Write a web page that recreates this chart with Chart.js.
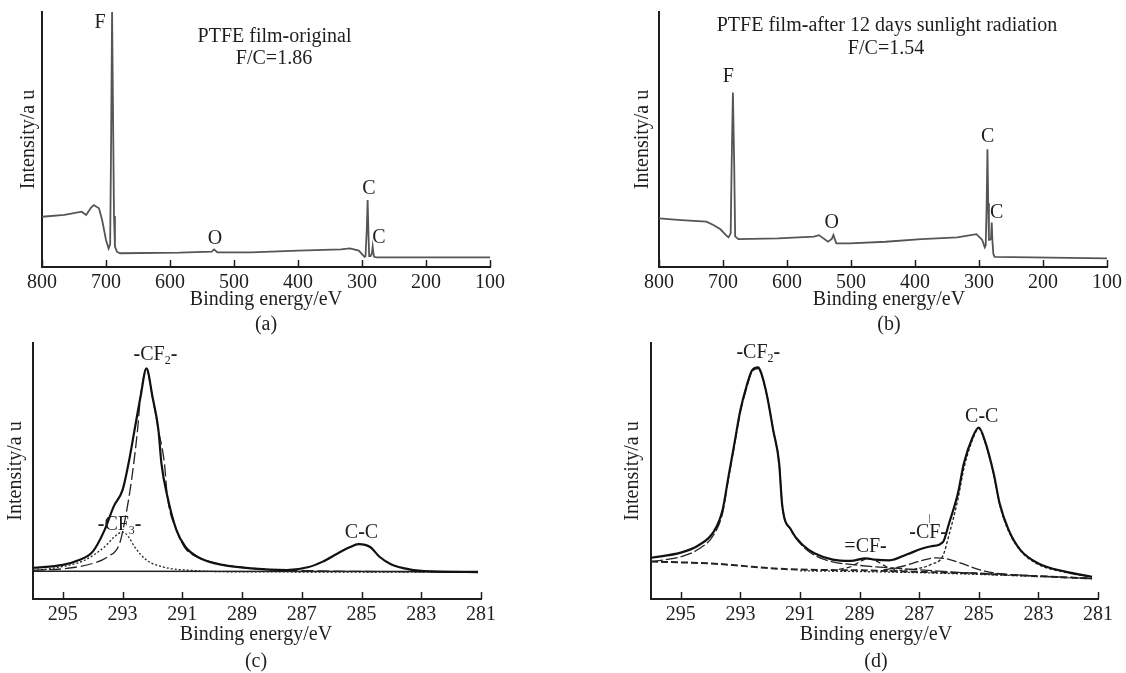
<!DOCTYPE html>
<html>
<head>
<meta charset="utf-8">
<script src="https://cdn.jsdelivr.net/npm/chart.js@4.4.0/dist/chart.umd.min.js"></script>
<style>
  html, body { margin: 0; padding: 0; background: #fff; }
  #wrap { position: relative; width: 1126px; height: 673px; overflow: hidden; background: #fff; }
  canvas { position: absolute; }
</style>
</head>
<body>
<div id="wrap">
  <canvas id="chartA" width="563" height="336" style="left:0;top:0"></canvas>
  <canvas id="chartB" width="563" height="336" style="left:563px;top:0"></canvas>
  <canvas id="chartC" width="563" height="337" style="left:0;top:336px"></canvas>
  <canvas id="chartD" width="563" height="337" style="left:563px;top:336px"></canvas>
</div>
<script>
// ---------- data ----------
// (a) survey spectrum, original PTFE film
const surveyOrigEnergy = [800, 765, 738, 731, 723, 719, 711, 706, 700, 696, 693.5, 692, 690.5, 689, 687.5, 686, 683, 678, 585, 535, 531, 526, 473, 400, 333, 319, 305, 296, 294.5, 292.5, 291.2, 290, 288.8, 286.5, 284.5, 283.3, 282, 281, 277, 100];
const surveyOrigCounts = [19.7, 20.4, 21.7, 20.4, 23.4, 24.3, 23.0, 18.4, 10.6, 7.3, 9, 50, 100, 60, 20, 8, 6.0, 5.4, 5.6, 6.0, 6.9, 5.7, 5.7, 6.4, 6.9, 7.3, 6.4, 4.0, 4.2, 15, 26.3, 14, 4.3, 4.3, 5.5, 8, 5, 4, 3.8, 3.8];

// (b) survey spectrum, after 12 days sunlight
const surveyAgedEnergy = [800, 765, 726, 715, 704, 695.4, 691.4, 688, 686.5, 684.5, 682.5, 681, 676, 614, 558, 550, 536, 530, 527.5, 523, 502, 446, 390, 334, 304, 295, 291, 289.5, 288, 286.8, 285.6, 284.5, 283, 281.3, 280.1, 279, 277.5, 275.6, 100];
const surveyAgedCounts = [19.1, 18.4, 17.8, 16.5, 14.8, 12.5, 11.6, 13.2, 40, 68.4, 40, 12, 10.9, 11.2, 11.9, 12.5, 9.9, 11, 12.5, 9.3, 9.3, 9.9, 10.9, 11.6, 12.9, 10.6, 7.7, 8.5, 25, 46.2, 25, 10.6, 10.6, 11, 17.4, 10, 5, 4, 3.4];

// (c) C1s, original film
const c1sOrigEnergy = [296.0, 295.0, 294.5, 294.0, 293.6, 293.3, 293.0, 292.8, 292.6, 292.4, 292.2, 292.0, 291.8, 291.7, 291.5, 291.2, 290.9, 290.5, 289.9, 288.7, 287.5, 286.8, 286.3, 285.8, 285.4, 285.1, 284.7, 284.4, 284.0, 283.4, 282.7, 281.1];
const c1sOrigCounts = [12.2, 13.3, 15.0, 18.5, 27.0, 36.1, 42.6, 53.0, 66.0, 79.0, 90.1, 79.0, 66.0, 53.0, 40.0, 27.0, 20.4, 16.5, 13.9, 12.0, 11.3, 12.4, 14.6, 17.8, 20.2, 21.4, 20.2, 16.5, 13.5, 11.6, 10.8, 10.5];
const cf2OrigEnergy = [296, 295, 294, 293.5, 293.1, 292.9, 292.7, 292.5, 292.4, 292.2, 292.0, 291.8, 291.6, 291.5, 291.2, 290.9, 290.4, 289.7, 288.5, 286.9, 281.1];
const cf2OrigCounts = [11.3, 11.8, 13.9, 16.5, 21.7, 32.2, 46.5, 66, 79, 89.5, 79, 66, 53, 40, 27, 19.8, 15.9, 13.5, 11.8, 11.1, 10.5];
const cf3OrigEnergy = [296, 295.3, 294.3, 293.6, 293.3, 293.0, 292.8, 292.6, 292.2, 291.6, 290.6, 288.7, 281.1];
const cf3OrigCounts = [11.1, 12.1, 15, 20.4, 24, 26.2, 24.3, 20.4, 15.2, 12.4, 11.1, 10.6, 10.5];
const baseOrigEnergy = [296, 281.1];
const baseOrigCounts = [10.8, 10.7];

// (d) C1s, after 12 days sunlight
const c1sAgedEnergy = [296.0, 295.0, 294.4, 293.9, 293.6, 293.4, 293.2, 293.0, 292.8, 292.6, 292.4, 292.3, 292.1, 291.9, 291.7, 291.6, 291.3, 290.9, 290.5, 289.9, 289.3, 288.8, 288.5, 288.0, 287.4, 286.9, 286.6, 286.2, 286.0, 285.7, 285.5, 285.2, 285.0, 284.8, 284.5, 284.3, 284.0, 283.6, 283.0, 282.1, 281.2];
const c1sAgedCounts = [16.1, 18.1, 21.0, 26.2, 34.7, 47.8, 60.8, 73.8, 82.9, 89.5, 90.5, 88.2, 79, 66, 53, 37, 27, 21, 17.8, 15.4, 14.9, 15.9, 15.4, 15.1, 17.5, 19.7, 20.6, 22.3, 29.5, 41.3, 53, 63.4, 67, 62, 49, 37.3, 27, 19.1, 13.9, 10.7, 8.7];
const cf2AgedEnergy = [296, 295, 294.4, 293.9, 293.6, 293.4, 293.2, 293.0, 292.8, 292.6, 292.4, 292.3, 292.1, 291.9, 291.7, 291.6, 291.3, 290.9, 290.5, 289.9, 289.3, 288.5, 287.5, 286.5, 285.5, 284.5, 283, 281.2];
const cf2AgedCounts = [14.6, 16.5, 19.5, 25, 33.5, 47, 60, 73, 82, 89, 90, 88, 79, 66, 53, 37, 27, 20.5, 17, 14.5, 13.5, 12.6, 11.8, 11.0, 10.3, 9.8, 9.0, 8.0];
const dblCfEnergy = [289.7, 289.3, 289.0, 288.7, 288.4, 288.1, 287.8];
const dblCfCounts = [11.6, 12.6, 14.5, 15.9, 14.6, 12.6, 11.5];
const cfEnergy = [288.2, 287.7, 287.2, 286.8, 286.4, 286.0, 285.6, 285.2, 284.8, 284.4, 284.0];
const cfCounts = [11.4, 12.4, 14.0, 15.4, 16.1, 15.5, 14.0, 12.3, 10.9, 10.0, 9.6];
const ccAgedEnergy = [288, 287.5, 287, 286.6, 286.2, 286.0, 285.7, 285.5, 285.2, 285.0, 284.8, 284.5, 284.3, 284.0, 283.6, 283.0, 282.1, 281.2];
const ccAgedCounts = [11.0, 11.3, 12.0, 13.5, 17.0, 25, 39, 51, 62.5, 66.5, 61.5, 48.5, 36.8, 26.5, 18.8, 13.5, 10.4, 8.6];
const bgAgedEnergy = [296, 295, 294, 293, 292, 291, 290, 289, 288, 287, 286, 285, 284, 283, 282, 281.2];
const bgAgedCounts = [14.6, 14.3, 13.9, 13.0, 12.0, 11.5, 11.3, 11.2, 10.9, 10.6, 10.3, 9.9, 9.4, 8.9, 8.4, 8.0];
const bgDotEnergy = [291, 289, 287, 285, 283, 281.2];
const bgDotCounts = [11.0, 10.7, 10.3, 9.6, 8.8, 7.9];

// tick labels
const surveyTicks = [800, 700, 600, 500, 400, 300, 200, 100];
const c1sTicks = [295, 293, 291, 289, 287, 285, 283, 281];

// ---------- helpers ----------
const SERIF = '"Liberation Serif", "Times New Roman", serif';
const INK = '#1e1e1e';

function zip(xs, ys) {
  return xs.map((x, i) => ({ x: x, y: ys[i] }));
}

// split "-CF_2-" into runs: bold hyphens, subscript digits
function splitRich(text) {
  const segs = [];
  for (let i = 0; i < text.length; i++) {
    const ch = text[i];
    const last = segs[segs.length - 1];
    if (ch === '_') { segs.push({ t: text[i + 1], sub: true }); i++; }
    else if (ch === '-') segs.push({ t: '-', bold: true });
    else if (last && !last.sub && !last.bold) last.t += ch;
    else segs.push({ t: ch });
  }
  return segs;
}

function drawRich(ctx, text, x, y, size) {
  const segs = splitRich(text);
  const fontOf = s => (s.bold ? 'bold ' : '') + (s.sub ? Math.round(size * 0.6) : size) + 'px ' + SERIF;
  let w = 0;
  segs.forEach(s => { ctx.font = fontOf(s); s.w = ctx.measureText(s.t).width; w += s.w; });
  let cx = x - w / 2;
  ctx.fillStyle = INK;
  ctx.textBaseline = 'middle';
  ctx.textAlign = 'left';
  segs.forEach(s => {
    ctx.font = fontOf(s);
    ctx.fillText(s.t, cx, s.sub ? y + size * 0.28 : y);
    cx += s.w;
  });
}

// inward ticks, peak labels, axis titles
const panelText = {
  id: 'panelText',
  afterDraw(chart, args, opts) {
    const ctx = chart.ctx;
    const xs = chart.scales.x, ys = chart.scales.y;
    const area = chart.chartArea;
    ctx.save();
    ctx.strokeStyle = INK;
    ctx.lineWidth = 1.5;
    xs.ticks.forEach(t => {
      const px = Math.round(xs.getPixelForValue(t.value)) + 0.5;
      ctx.beginPath();
      ctx.moveTo(px, area.bottom);
      ctx.lineTo(px, area.bottom - 7);
      ctx.stroke();
    });
    (opts.labels || []).forEach(l => {
      drawRich(ctx, l.text, xs.getPixelForValue(l.x), ys.getPixelForValue(l.y), l.size || 20);
    });
    drawRich(ctx, 'Binding energy/eV', opts.titleX, area.bottom + opts.titleDy, 20);
    drawRich(ctx, opts.letter, opts.titleX, area.bottom + opts.letterDy, 20);
    ctx.translate(opts.yTitleX, (area.top + area.bottom) / 2);
    ctx.rotate(-Math.PI / 2);
    drawRich(ctx, 'Intensity/a u', 0, 0, 20);
    ctx.restore();
  }
};

function line(points, width, color, dash, smooth) {
  return {
    data: points,
    borderColor: color,
    borderWidth: width,
    borderDash: dash || [],
    pointRadius: 0,
    fill: false,
    tension: 0,
    cubicInterpolationMode: smooth ? 'monotone' : 'default'
  };
}

function makeChart(id, cfg) {
  return new Chart(document.getElementById(id), {
    type: 'line',
    data: { datasets: cfg.datasets },
    options: {
      responsive: false,
      animation: false,
      layout: { padding: { top: cfg.top, right: cfg.right, left: 0, bottom: 0 } },
      plugins: { legend: { display: false }, tooltip: { enabled: false }, panelText: cfg.text },
      scales: {
        x: {
          type: 'linear',
          reverse: true,
          min: cfg.xMin,
          max: cfg.xMax,
          afterBuildTicks: ax => { ax.ticks = cfg.ticks.map(v => ({ value: v })); },
          afterFit: ax => { ax.height = cfg.xHeight; },
          grid: { display: false, drawTicks: false },
          border: { display: true, color: INK, width: 2 },
          ticks: {
            font: { family: SERIF, size: 20 },
            color: INK,
            padding: 4,
            maxRotation: 0,
            autoSkip: false,
            callback: v => String(v)
          }
        },
        y: {
          min: 0,
          max: 100,
          afterFit: ax => { ax.width = cfg.left; },
          ticks: { display: false },
          grid: { display: false, drawTicks: false },
          border: { display: true, color: INK, width: 2 }
        }
      }
    },
    plugins: [panelText]
  });
}

// ---------- panels ----------
const GRAY = '#555';

makeChart('chartA', {
  left: 42, right: 73, top: 12, xHeight: 69,
  xMin: 100, xMax: 800, ticks: surveyTicks,
  datasets: [line(zip(surveyOrigEnergy, surveyOrigCounts), 1.8, GRAY)],
  text: {
    letter: '(a)', titleX: 266, titleDy: 33, letterDy: 58, yTitleX: 29,
    labels: [
      { text: 'PTFE film-original', x: 436.7, y: 90.2 },
      { text: 'F/C=1.86', x: 437.5, y: 81.6 },
      { text: 'F', x: 709.4, y: 95.7 },
      { text: 'O', x: 529.7, y: 11.0 },
      { text: 'C', x: 289.1, y: 30.6 },
      { text: 'C', x: 273.4, y: 11.4 }
    ]
  }
});

makeChart('chartB', {
  left: 96, right: 18, top: 12, xHeight: 69,
  xMin: 100, xMax: 800, ticks: surveyTicks,
  datasets: [line(zip(surveyAgedEnergy, surveyAgedCounts), 1.8, GRAY)],
  text: {
    letter: '(b)', titleX: 326, titleDy: 33, letterDy: 58, yTitleX: 80,
    labels: [
      { text: 'PTFE film-after 12 days sunlight radiation', x: 443.8, y: 94.5 },
      { text: 'F/C=1.54', x: 445.3, y: 85.5 },
      { text: 'F', x: 691.6, y: 74.5 },
      { text: 'O', x: 530.3, y: 17.3 },
      { text: 'C', x: 286.3, y: 51.0 },
      { text: 'C', x: 272.3, y: 21.2 }
    ]
  }
});

makeChart('chartC', {
  left: 33, right: 82, top: 7, xHeight: 74,
  xMin: 281, xMax: 296, ticks: c1sTicks,
  datasets: [
    line(zip(c1sOrigEnergy, c1sOrigCounts), 2.2, '#111', [], true),
    line(zip(cf2OrigEnergy, cf2OrigCounts), 1.3, '#222', [12, 4], true),
    line(zip(cf3OrigEnergy, cf3OrigCounts), 1.3, '#222', [2, 2], true),
    line(zip(baseOrigEnergy, baseOrigCounts), 1.5, '#222')
  ],
  text: {
    letter: '(c)', titleX: 256, titleDy: 36, letterDy: 63, yTitleX: 16,
    labels: [
      { text: '-CF_2-', x: 291.9, y: 95.3 },
      { text: '-CF_3-', x: 293.1, y: 28.9 },
      { text: 'C-C', x: 285.0, y: 25.8 }
    ]
  }
});

makeChart('chartD', {
  left: 88, right: 28, top: 7, xHeight: 74,
  xMin: 281, xMax: 296, ticks: c1sTicks,
  datasets: [
    line(zip(c1sAgedEnergy, c1sAgedCounts), 2.2, '#111', [], true),
    line(zip(cf2AgedEnergy, cf2AgedCounts), 1.3, '#222', [12, 3], true),
    line(zip(dblCfEnergy, dblCfCounts), 1.3, '#222', [5, 3], true),
    line(zip(cfEnergy, cfCounts), 1.3, '#222', [10, 3], true),
    line(zip(ccAgedEnergy, ccAgedCounts), 1.3, '#222', [3, 2], true),
    line(zip(bgAgedEnergy, bgAgedCounts), 2, '#222', [7, 3], true),
    line(zip(bgDotEnergy, bgDotCounts), 1.3, '#333', [2, 2], true)
  ],
  text: {
    letter: '(d)', titleX: 313, titleDy: 36, letterDy: 63, yTitleX: 70,
    labels: [
      { text: '-CF_2-', x: 292.4, y: 96.1 },
      { text: 'C-C', x: 284.9, y: 71.1 },
      { text: '=CF-', x: 288.8, y: 20.3 },
      { text: '-CF-', x: 286.7, y: 25.8 },
      { text: '|', x: 286.65, y: 31.7, size: 11 }
    ]
  }
});
</script>
</body>
</html>
